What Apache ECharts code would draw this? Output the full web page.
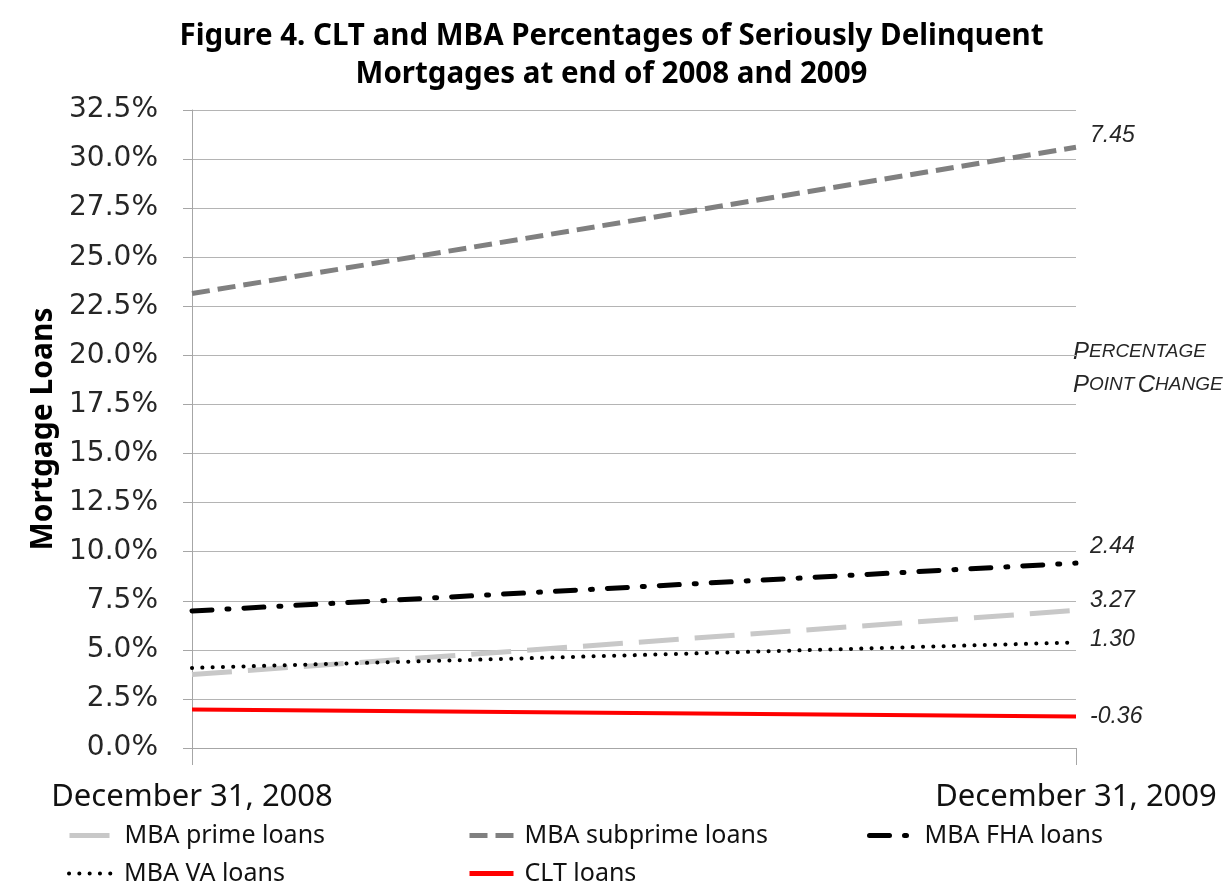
<!DOCTYPE html>
<html>
<head>
<meta charset="utf-8">
<script src="https://cdn.jsdelivr.net/npm/echarts@6/dist/echarts.min.js"></script>
<style>
  html, body { margin: 0; padding: 0; background: #fff; }
  #main { width: 1223px; height: 884px; }
</style>
</head>
<body>
<div id="main"></div>
<script>
// data
var dates = ['December 31, 2008', 'December 31, 2009']
var seriesNames = ['MBA prime loans', 'MBA subprime loans', 'MBA FHA loans', 'MBA VA loans', 'CLT loans']
var primeLoans = [3.74, 7.01]
var subprimeLoans = [23.15, 30.60]
var fhaLoans = [6.98, 9.42]
var vaLoans = [4.08, 5.38]
var cltLoans = [1.96, 1.60]
var pointChanges = ['3.27', '7.45', '2.44', '1.30', '-0.36']
var yTicks = [0, 2.5, 5, 7.5, 10, 12.5, 15, 17.5, 20, 22.5, 25, 27.5, 30, 32.5]

var sans = '"Noto Sans", sans-serif'

var myChart = echarts.init(document.getElementById('main'))

function endLabel(idx, dy) {
    return {
        show: true,
        formatter: function () { return pointChanges[idx] },
        distance: 14,
        offset: [0, dy],
        color: '#262626',
        fontStyle: 'italic',
        fontSize: 23,
        fontFamily: '"Liberation Sans", Arial, sans-serif'
    }
}

function legendAt(name, left, top, lw) {
    return {
        data: [name],
        left: left,
        top: top,
        itemWidth: 44,
        itemHeight: 14,
        itemGap: 0,
        itemStyle: { opacity: 0 },
        lineStyle: { width: lw },
        textStyle: { fontSize: 25, fontFamily: sans, color: '#111', padding: [0, 0, 0, 6] }
    }
}

var option = {
    animation: false,
    backgroundColor: '#fff',
    title: {
        text: 'Figure 4. CLT and MBA Percentages of Seriously Delinquent\nMortgages at end of 2008 and 2009',
        left: 'center',
        top: 13,
        textStyle: {
            fontSize: 29.5,
            fontWeight: 'bold',
            fontFamily: sans,
            color: '#000',
            lineHeight: 38
        }
    },
    grid: {
        left: 192,
        right: 147,
        top: 110,
        bottom: 136,
        outerBoundsMode: 'none'
    },
    legend: [
        legendAt(seriesNames[0], 62, 818, 5),
        legendAt(seriesNames[1], 462, 818, 5),
        legendAt(seriesNames[2], 862, 818, 5),
        legendAt(seriesNames[3], 62, 856, 4),
        legendAt(seriesNames[4], 462, 856, 5)
    ],
    xAxis: {
        type: 'category',
        data: dates,
        boundaryGap: false,
        axisLine: { show: true, lineStyle: { color: '#a6a6a6', width: 1 } },
        axisTick: { show: true, length: 17, lineStyle: { color: '#a6a6a6' } },
        axisLabel: {
            margin: 34,
            fontSize: 31,
            fontFamily: sans,
            color: '#111'
        },
        splitLine: { show: false }
    },
    yAxis: {
        type: 'value',
        min: yTicks[0],
        max: yTicks[yTicks.length - 1],
        interval: 2.5,
        name: 'Mortgage Loans',
        nameLocation: 'middle',
        nameGap: 132,
        nameTextStyle: {
            fontSize: 30,
            fontWeight: 'bold',
            fontFamily: sans,
            color: '#000'
        },
        axisLine: { show: true, lineStyle: { color: '#a6a6a6', width: 1 } },
        axisTick: { show: true, length: 9, lineStyle: { color: '#a6a6a6' } },
        axisLabel: {
            margin: 34,
            fontSize: 28,
            fontFamily: '"DejaVu Sans", Verdana, sans-serif',
            color: '#262626',
            formatter: function (v) { return v.toFixed(1) + '%' }
        },
        splitLine: { show: true, lineStyle: { color: '#b4b4b4', width: 1 } }
    },
    graphic: [
        {
            type: 'text',
            left: 1073,
            top: 340,
            style: {
                text: '{b|P}{s|ERCENTAGE}\n{b|P}{s|OINT} {b|C}{s|HANGE}',
                rich: {
                    b: { fontSize: 24, fontStyle: 'italic', fontFamily: '"Liberation Sans", Arial', fill: '#262626', lineHeight: 33 },
                    s: { fontSize: 19, fontStyle: 'italic', fontFamily: '"Liberation Sans", Arial', fill: '#262626', lineHeight: 33 }
                }
            }
        }
    ],
    series: [
        {
            name: seriesNames[0],
            type: 'line',
            data: primeLoans,
            symbol: 'none',
            itemStyle: { color: '#c8c8c8' },
            lineStyle: { color: '#c8c8c8', width: 5, type: [40, 16] },
            endLabel: endLabel(0, -10),
            z: 2
        },
        {
            name: seriesNames[1],
            type: 'line',
            data: subprimeLoans,
            symbol: 'none',
            itemStyle: { color: '#808080' },
            lineStyle: { color: '#808080', width: 5, type: [18, 8] },
            endLabel: endLabel(1, -12),
            z: 2
        },
        {
            name: seriesNames[2],
            type: 'line',
            data: fhaLoans,
            symbol: 'none',
            itemStyle: { color: '#000' },
            lineStyle: { color: '#000', width: 5, type: [20, 15, 2, 15], cap: 'round' },
            endLabel: endLabel(2, -16),
            z: 3
        },
        {
            name: seriesNames[3],
            type: 'line',
            data: vaLoans,
            symbol: 'none',
            itemStyle: { color: '#000' },
            lineStyle: { color: '#000', width: 4, type: [0.1, 10.2], cap: 'round' },
            endLabel: endLabel(3, -3),
            z: 4
        },
        {
            name: seriesNames[4],
            type: 'line',
            data: cltLoans,
            symbol: 'none',
            itemStyle: { color: '#ff0000' },
            lineStyle: { color: '#ff0000', width: 4 },
            endLabel: endLabel(4, 0),
            z: 5
        }
    ]
}
myChart.setOption(option)
</script>
</body>
</html>
